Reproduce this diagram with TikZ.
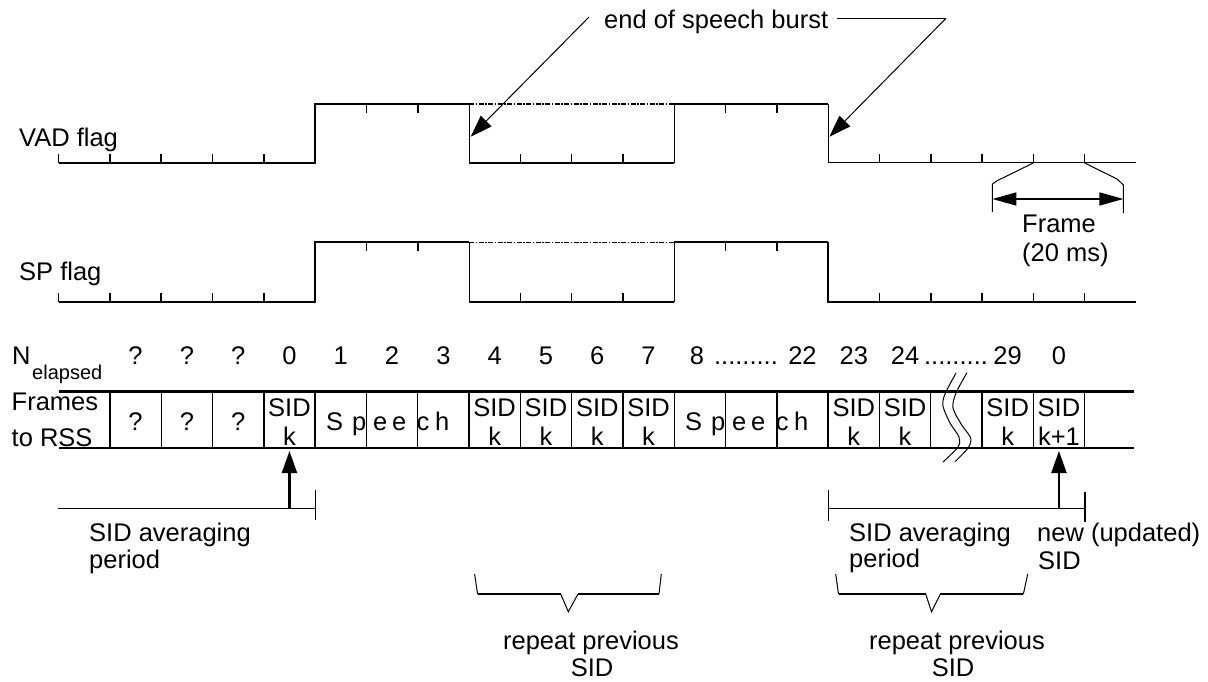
\documentclass[tikz,border=0pt]{standalone}
\usepackage{fontspec}
\setmainfont{Liberation Sans}
\usetikzlibrary{arrows.meta}
\newcommand\fxx[1]{58.6+51.3*(#1)}
\newcommand\fcc[1]{58.6+51.3*(#1+0.5)}
\begin{document}
\begin{tikzpicture}[x=1pt,y=-1pt,
  thickline/.style={line width=2.2pt},
  thinline/.style={line width=1pt},
  tickline/.style={line width=1.6pt},
  dashdotline/.style={line width=1.1pt,dash pattern=on 5pt off 1.5pt on 1.5pt off 1.5pt},
  lbl/.style={inner sep=0pt,font=\fontsize{25.5}{29}\selectfont},
  sublbl/.style={inner sep=0pt,font=\fontsize{20}{24}\selectfont},
  bigtip/.style={-{Triangle[length=22pt,width=15pt]}},
  frametip/.style={{Triangle[length=24pt,width=13pt]}-{Triangle[length=24pt,width=13pt]}},
]
\useasboundingbox (0,0) rectangle (1208,682);

% ---------- flag signals ----------
\newcommand\flagrow[3]{%
  \draw[thickline] ({\fxx{0}},#1) -- ({\fxx{5}},#1) -- ({\fxx{5}},#2) -- ({\fxx{8}},#2);
  \draw[thinline] ({\fxx{8}},#2) -- ({\fxx{8}},#1);
  \draw[thickline] ({\fxx{8}},#1) -- ({\fxx{12}},#1);
  \draw[thinline] ({\fxx{12}},#1) -- ({\fxx{12}},#2);
  \draw[thickline] ({\fxx{12}},#2) -- ({\fxx{15}},#2);
  \draw[#3] ({\fxx{15}},#2) -- ({\fxx{15}},#1) -- ({\fxx{21}},#1);
  \draw[dashdotline] ({\fxx{8}},#2) -- ({\fxx{12}},#2);
  \foreach \i in {0,1,2,3,4,9,10,11,16,17,18,19,20}
    \draw[tickline] ({\fxx{\i}},#1) -- ({\fxx{\i}},{#1-9});
  \foreach \i in {6,7,13,14}
    \draw[tickline] ({\fxx{\i}},#2) -- ({\fxx{\i}},{#2+9});
}
\flagrow{163}{104}{thinline}
\flagrow{302}{242.3}{thickline}

\node[lbl,anchor=base west] (vad) at (19,147) {VAD flag};
\node[lbl,anchor=base west] (sp) at (19,280.5) {SP flag};

% ---------- end of speech burst ----------
\node[lbl,anchor=base west] (eosb) at (604,28.5) {end of speech burst};
\coordinate (eosbL) at (589,17);
\coordinate (eosbR) at (837,18.3);
\coordinate (elbow) at (946,18.3);
\coordinate (tipA) at (470.7,136.7);
\coordinate (tipB) at (829.4,136.7);
\draw[thinline,bigtip] (eosbL) -- (tipA);
\draw[thinline] (eosbR) -- (elbow);
\draw[thinline,bigtip] (elbow) -- (tipB);

% ---------- frame annotation ----------
\coordinate (fa1) at ({\fxx{19}},163);
\coordinate (fa2) at (997.5,180.5);
\coordinate (fa3) at (992.4,184);
\coordinate (fa4) at (992.4,212);
\coordinate (fb1) at ({\fxx{20}},163);
\coordinate (fb2) at (1117,179);
\coordinate (fb3) at (1123.4,185);
\coordinate (fb4) at (1123.4,213);
\draw[thinline] (fa1) -- (fa2) -- (fa3) -- (fa4);
\draw[thinline] (fb1) -- (fb2) -- (fb3) -- (fb4);
\coordinate (farL) at (992.4,199);
\coordinate (farR) at (1123.4,199);
\draw[line width=1.4pt,frametip] (farL) -- (farR);
\node[lbl,anchor=base west] (frame) at (1022,233) {Frame};
\node[lbl,anchor=base west] (ms) at (1022,261.5) {(20 ms)};

% ---------- N elapsed ----------
\node[lbl,anchor=base west] (N) at (12,364) {N};
\node[sublbl,anchor=base west] (el) at (32,379) {elapsed};
\foreach \i/\t in {1/?,2/?,3/?,4/0,5/1,6/2,7/3,8/4,9/5,10/6,11/7,14/22,15/23,16/24,18/29,19/0}
  \node[lbl,anchor=base] (n\i) at ({\fcc{\i}},364) {\t};
\node[lbl,anchor=base] (n12) at (697,364) {8};
\node[lbl,anchor=base] (d1) at (746,364) {.........};
\node[lbl,anchor=base] (d2) at (956,364) {.........};

% ---------- frames row ----------
\draw[thickline] ({\fxx{0}},391.5) -- (1134,391.5);
\draw[thickline] ({\fxx{0}},448.3) -- (1134,448.3);
\foreach \i in {1,...,20}
  \draw[line width=1.4pt] ({\fxx{\i}},391.5) -- ({\fxx{\i}},448.3);
\node[lbl,anchor=base west] (fr1) at (11.5,410.5) {Frames};
\node[lbl,anchor=base west] (fr2) at (11.5,446.5) {to RSS};
\foreach \i in {1,2,3}
  \node[lbl,anchor=base] (q\i) at ({\fcc{\i}},430) {?};
\foreach \i/\k in {4/k,8/k,9/k,10/k,11/k,15/k,16/k,18/k,19/k+1}{
  \node[lbl,anchor=base] (s\i) at ({\fcc{\i}},416.5) {SID};
  \node[lbl,anchor=base] (k\i) at ({\fcc{\i}},445) {\k};
}
\newcommand\speech[2]{%
  \node[lbl,anchor=base] (#2a) at ({\fxx{#1}+19.5},430.5) {S};
  \node[lbl,anchor=base] (#2b) at ({\fxx{#1}+44},430.5) {p};
  \node[lbl,anchor=base] (#2c) at ({\fxx{#1}+65},430.5) {e};
  \node[lbl,anchor=base] (#2d) at ({\fxx{#1}+84},430.5) {e};
  \node[lbl,anchor=base] (#2e) at ({\fxx{#1}+108},430.5) {c};
  \node[lbl,anchor=base] (#2f) at ({\fxx{#1}+127},430.5) {h};
}
\speech{5}{spa}
\speech{12}{spb}
% break symbol
\draw[thinline] plot[smooth] coordinates {(956,373) (945,394) (943,406) (950,423) (959,437) (958,447) (943,462)};
\draw[thinline] plot[smooth] coordinates {(967,372.7) (956,393) (953,408) (961.7,425) (970.7,438) (968,448) (955,461.7)};

% ---------- SID arrows and averaging periods ----------
\coordinate (upA0) at ({\fcc{4}},508);
\coordinate (upA1) at ({\fcc{4}},451);
\coordinate (upB0) at ({\fcc{19}},508);
\coordinate (upB1) at ({\fcc{19}},451);
\draw[thickline,bigtip] (upA0) -- (upA1);
\draw[thickline,bigtip] (upB0) -- (upB1);

\draw[thinline] (58,508) -- ({\fxx{5}},508);
\draw[thinline] ({\fxx{5}},490) -- ({\fxx{5}},520);
\draw[thinline] ({\fxx{15}},508) -- ({\fxx{20}},508);
\draw[thinline] ({\fxx{15}},490) -- ({\fxx{15}},521);
\draw[line width=1.8pt] ({\fxx{20}},492) -- ({\fxx{20}},522);

\node[lbl,anchor=base west] (av1) at (89,541.5) {SID averaging};
\node[lbl,anchor=base west] (av2) at (89,568) {period};
\node[lbl,anchor=base west] (av3) at (849,541.5) {SID averaging};
\node[lbl,anchor=base west] (av4) at (849,567.5) {period};
\node[lbl,anchor=base west] (nu1) at (1037,541.5) {new (updated)};
\node[lbl,anchor=base west] (nu2) at (1038,569) {SID};

% ---------- braces ----------
\draw[thinline] (474.6,574) -- (477.6,594);
\draw[line width=1.8pt] (477.6,594) -- (560.7,594);
\draw[thinline] (560.7,594) -- (568.3,611.7) -- (578,594);
\draw[line width=1.8pt] (578,594) -- (659,594);
\draw[thinline] (659,594) -- (661.3,574);

\draw[thinline] (835.7,574) -- (838.5,594);
\draw[line width=1.8pt] (838.5,594) -- (925.7,594);
\draw[thinline] (925.7,594) -- (931.5,611.7) -- (940.4,594);
\draw[line width=1.8pt] (940.4,594) -- (1023.4,594);
\draw[thinline] (1023.4,594) -- (1027.7,574);

\node[lbl,anchor=base] (rp1) at (591,649.5) {repeat previous};
\node[lbl,anchor=base] (rp2) at (592,676) {SID};
\node[lbl,anchor=base] (rp3) at (957,649.5) {repeat previous};
\node[lbl,anchor=base] (rp4) at (953,676) {SID};
\end{tikzpicture}
\end{document}
